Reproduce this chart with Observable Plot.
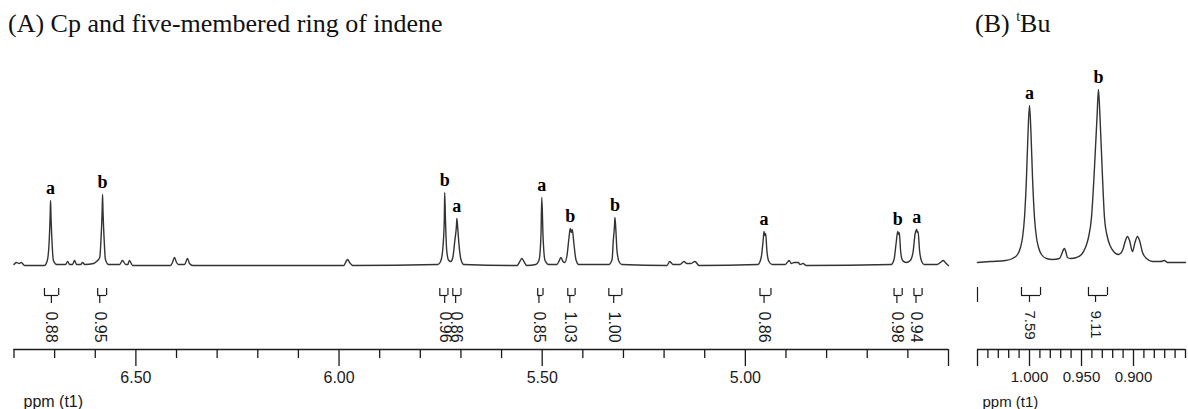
<!DOCTYPE html>
<html><head><meta charset="utf-8">
<script src="https://cdn.jsdelivr.net/npm/d3@7"></script>
<script src="https://cdn.jsdelivr.net/npm/@observablehq/plot@0.6"></script>
<style>
html,body{margin:0;padding:0;background:#fff;}
#wrap{position:relative;width:1188px;height:409px;overflow:hidden;background:#fff;}
#wrap svg{position:absolute;top:0;max-width:none;}
.title{position:absolute;z-index:2;font-family:"Liberation Serif","Times New Roman",serif;font-size:26px;line-height:26px;color:#111;white-space:nowrap;}
</style></head><body>
<div id="wrap">
 <div class="title" style="left:8px;top:11px">(A) Cp and five-membered ring of indene</div>
 <div class="title" style="left:975px;top:11px">(B) <span style="font-size:14px;position:relative;top:-11px">t</span>Bu</div>
</div>
<script>
// ---------- Panel A: Cp and five-membered ring of indene ----------
const tracePpmA = [6.800,6.794,6.787,6.782,6.774,
 6.725,6.718,6.714,6.711,6.710,6.709,6.706,6.703,6.695,
 6.678,6.673,6.668,6.663,6.656,6.651,6.646,6.636,6.631,6.626,
 6.604,6.597,6.589,6.586,6.583,6.582,6.581,6.578,6.575,6.567,
 6.540,6.533,6.525,6.520,6.516,6.508,
 6.415,6.410,6.405,6.400,6.395,6.380,6.373,6.368,6.360,
 5.988,5.984,5.979,5.974,5.966,
 5.757,5.750,5.745,5.741,5.740,5.738,5.735,5.730,5.725,5.720,5.715,5.711,5.710,5.708,5.705,5.700,5.693,
 5.562,5.555,5.550,5.545,5.538,
 5.516,5.508,5.503,5.501,5.498,5.493,5.484,
 5.464,5.459,5.454,5.449,5.444,5.439,5.434,5.431,5.428,5.426,5.422,5.417,5.410,
 5.336,5.328,5.325,5.322,5.321,5.319,5.316,5.311,5.304,
 5.193,5.186,5.178,5.161,5.151,5.144,5.134,5.124,5.114,
 4.969,4.961,4.956,4.954,4.952,4.950,4.947,4.942,4.934,
 4.902,4.897,4.892,4.887,4.880,4.870,4.865,4.858,4.850,
 4.641,4.634,4.629,4.625,4.623,4.621,4.618,4.613,4.604,4.594,4.587,4.582,4.578,4.577,4.575,4.571,4.566,4.560,
 4.528,4.520,4.513,4.508,4.503,4.500];
const traceIntA = [1,3,2,3,0,
 0,5,20,50,65,50,20,5,1,
 1,1,4,1,1,5,1,1,3,1,
 2,4,8,25,55,71,55,25,6,1,
 1,5,1,1,5,0,
 0,3,8,3,1,1,7,2,0,
 0,3,6,3,0,
 1,4,15,45,73,45,15,5,4,8,25,40,47,38,22,6,1,
 0,4,7,4,0,
 1,5,30,68,30,5,1,
 1,4,8,4,3,10,28,37,33,36,22,6,1,
 1,6,25,40,48,38,15,4,1,
 0,4,1,1,4,2,2,4,0,
 1,8,26,34,30,32,15,4,1,
 1,3,5,2,3,3,1,2,0,
 1,6,22,34,31,33,15,5,3,5,14,32,36,33,34,14,4,1,
 1,3,5,3,1,0];
const peakPpmA = [6.710, 6.582, 5.740, 5.710, 5.501, 5.431, 5.321, 4.954, 4.625, 4.578];
const peakIntA = [65, 71, 73, 47, 68, 37, 48, 34, 34, 36];
const peakTagA = ["a","b","b","a","a","b","b","a","b","a"];
const intFromA = [6.725, 6.594, 5.752, 5.720, 5.511, 5.437, 5.336, 4.964, 4.634, 4.585];
const intToA   = [6.690, 6.572, 5.732, 5.700, 5.498, 5.419, 5.304, 4.937, 4.614, 4.565];
const intAtA   = [6.708, 6.589, 5.740, 5.713, 5.508, 5.432, 5.324, 4.954, 4.627, 4.580];
const intValA  = ["0.88","0.95","0.96","0.86","0.85","1.03","1.00","0.86","0.98","0.94"];
const minorTicksA = [6.8,6.7,6.6,6.4,6.3,6.2,6.1,5.9,5.8,5.7,5.6,5.4,5.3,5.2,5.1,4.9,4.8,4.7,4.6];
const majorTicksA = [6.5, 6.0, 5.5, 5.0];
const edgeTicksA = [4.5];
const domainA = [6.80, 4.50];

// ---------- Panel B: tBu ----------
const tracePpmB = [1.050,1.0375,1.0231,1.0163,1.0115,1.0087,1.0067,1.0048,1.0029,1.0014,1.0000,0.9986,0.9971,0.9952,0.9933,0.9913,0.9885,0.9837,0.9779,
 0.9712,0.9692,0.9673,0.9663,0.9649,0.9635,0.9606,0.9548,0.9500,0.9462,0.9433,0.9404,0.9380,0.9351,0.9337,0.9322,0.9298,0.9279,0.9250,0.9221,0.9183,0.9144,
 0.9106,0.9077,0.9058,0.9038,0.9010,0.8986,0.8962,0.8942,0.8913,0.8875,0.8817,0.8740,0.8702,0.8673,0.850];
const traceIntB = [0,1,2,4,8,15,25,45,85,130,157,130,85,45,25,15,8,4,3,
 4,8,13,14,10,5,4,5,8,15,25,45,85,145,173,145,85,45,25,16,10,8,
 12,22,26,22,11,20,26,22,10,4,1,1,2,0,0];
const peakPpmB = [1.000, 0.9337];
const peakIntB = [157, 173];
const peakTagB = ["a","b"];
const intFromB = [1.0077, 0.9433];
const intToB   = [0.9894, 0.9250];
const intAtB   = [1.0000, 0.9365];
const intValB  = ["7.59","9.11"];
const edgeMarkB = [1.05];
const minorTicksB = [1.04,1.03,1.02,1.01,0.99,0.98,0.97,0.96,0.94,0.93,0.92,0.91,0.89,0.88,0.87,0.86,0.85];
const majorTicksB = [1.00, 0.95, 0.90];
const edgeTicksB = [1.05];
const domainB = [1.05, 0.85];

// ---------- layout (not data) ----------
const LA = {yMin: -84, yMax: 265, brTop: -23, brBar: -30, stemEnd: -38, txtTop: -46};
const LB = {yMin: -87, yMax: 262, brTop: -25, brBar: -33, stemEnd: -40, txtTop: -48};
const ink = "#1a1a1a", lineInk = "#333";

function panel({tracePpm, traceInt, peakPpm, peakInt, peakTag, intFrom, intTo, intAt, intVal,
                minor, major, edge, domain, L, fmt, width, mL, mR, fs, labelDx, extraBars}) {
  const trace = tracePpm.map((ppm, i) => ({ppm, h: traceInt[i]}));
  const peaks = peakPpm.map((ppm, i) => ({ppm, h: peakInt[i], tag: peakTag[i]}));
  const ints = intFrom.map((f, i) => ({from: f, to: intTo[i], at: intAt[i], val: intVal[i]}));
  return Plot.plot({
    width, height: 409,
    marginLeft: mL, marginRight: mR, marginTop: 0, marginBottom: 60,
    x: {domain},
    y: {domain: [L.yMin, L.yMax], axis: null},
    style: {fontFamily: "'Liberation Sans', Arial, sans-serif", fontSize: fs + "px", background: "transparent", color: ink},
    marks: [
      Plot.line(trace, {x: "ppm", y: "h", stroke: lineInk, strokeWidth: 1.4, curve: "monotone-x"}),
      Plot.text(peaks, {x: "ppm", y: "h", text: "tag", dy: -7, lineAnchor: "bottom",
        fontFamily: "'Liberation Serif', 'Times New Roman', serif", fontWeight: "bold", fontSize: 18, fill: "#000"}),
      // integral brackets
      Plot.ruleX(ints, {x: "from", y1: L.brTop, y2: L.brBar, stroke: ink, strokeWidth: 1.2}),
      Plot.ruleX(ints, {x: "to", y1: L.brTop, y2: L.brBar, stroke: ink, strokeWidth: 1.2}),
      Plot.ruleY(ints, {x1: "from", x2: "to", y: L.brBar, stroke: ink, strokeWidth: 1.2}),
      Plot.ruleX(ints, {x: "at", y1: L.brBar, y2: L.stemEnd, stroke: ink, strokeWidth: 1.2}),
      Plot.ruleX(extraBars, {x: d => d, y1: L.brTop, y2: L.stemEnd, stroke: ink, strokeWidth: 1.2}),
      Plot.text(ints, {x: "at", y: L.txtTop, text: "val", rotate: 90, textAnchor: "start", lineAnchor: "middle",
        fontSize: fs, fill: ink}),
      // axis
      Plot.ruleY([L.yMin], {stroke: ink, strokeWidth: 1.3}),
      Plot.axisX({ticks: minor, tickSize: 9, tickFormat: () => "", stroke: ink, strokeWidth: 1.3}),
      Plot.axisX({ticks: edge, tickSize: 17, tickFormat: () => "", stroke: ink, strokeWidth: 1.3}),
      Plot.axisX({ticks: major, tickSize: 17, tickPadding: 5, tickFormat: d3.format(fmt), stroke: ink, strokeWidth: 1.3, fontSize: fs, fill: ink, label: null}),
      Plot.text(["ppm (t1)"], {frameAnchor: "bottom-left", dx: labelDx, dy: 57, lineAnchor: "bottom", textAnchor: "start", fontSize: fs, fill: ink})
    ]
  });
}

const svgA = panel({tracePpm: tracePpmA, traceInt: traceIntA, peakPpm: peakPpmA, peakInt: peakIntA, peakTag: peakTagA,
  intFrom: intFromA, intTo: intToA, intAt: intAtA, intVal: intValA,
  minor: minorTicksA, major: majorTicksA, edge: edgeTicksA, domain: domainA, L: LA, fmt: ".2f",
  width: 962, mL: 13.5, mR: 14, fs: 16, labelDx: 9.5, extraBars: []});
svgA.style.left = "0px";

const svgB = panel({tracePpm: tracePpmB, traceInt: traceIntB, peakPpm: peakPpmB, peakInt: peakIntB, peakTag: peakTagB,
  intFrom: intFromB, intTo: intToB, intAt: intAtB, intVal: intValB,
  minor: minorTicksB, major: majorTicksB, edge: edgeTicksB, domain: domainB, L: LB, fmt: ".3f",
  width: 226, mL: 15, mR: 3, fs: 15, labelDx: 5, extraBars: edgeMarkB});
svgB.style.left = "962px";

const wrap = document.getElementById("wrap");
wrap.insertBefore(svgB, wrap.firstChild);
wrap.insertBefore(svgA, wrap.firstChild);
</script>
</body></html>
